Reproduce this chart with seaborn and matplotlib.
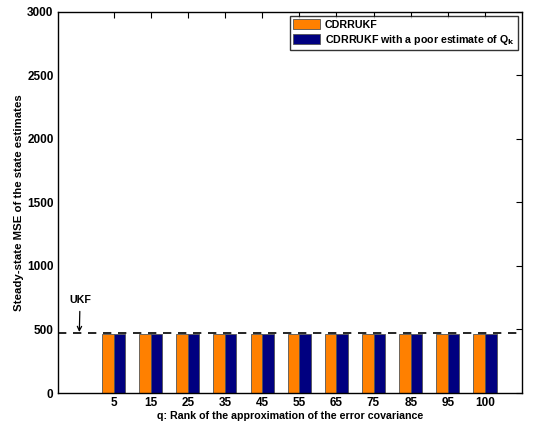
import matplotlib
matplotlib.use("Agg")
import matplotlib.pyplot as plt
import pandas as pd
import seaborn as sns

sns.set_style("white")
plt.rcParams["font.family"] = ["Liberation Sans", "DejaVu Sans"]
plt.rcParams["font.weight"] = "bold"
plt.rcParams["mathtext.default"] = "bf"
plt.rcParams["text.color"] = "k"
plt.rcParams["axes.labelcolor"] = "k"
plt.rcParams["xtick.color"] = "k"
plt.rcParams["ytick.color"] = "k"

# data
ranks = ["5", "15", "25", "35", "45", "55", "65", "75", "85", "95", "100"]
mse_cdrrukf = [465, 465, 464, 464, 464, 464, 464, 464, 464, 465, 464]
mse_poor_q = [466, 466, 465, 465, 465, 465, 465, 465, 465, 466, 465]
ukf_mse = 470
yticks = [0, 500, 1000, 1500, 2000, 2500, 3000]

lab1 = "CDRRUKF"
lab2 = r"CDRRUKF with a poor estimate of Q$_\mathbf{k}$"

df = pd.DataFrame({
    "rank": ranks * 2,
    "mse": mse_cdrrukf + mse_poor_q,
    "method": [lab1] * len(ranks) + [lab2] * len(ranks),
})

# empty first slot holds the UKF marker
order = [""] + ranks
pal = {lab1: "#ff8000", lab2: "#000080"}
fs_tick = 8.5
fs_lab = 7.7

fig = plt.figure(figsize=(5.35, 4.21), dpi=100)
ax = fig.add_axes([0.108, 0.0665, 0.868, 0.9055])

ax.axhline(ukf_mse, color="k", ls="--", lw=1.2, dashes=(5, 4), zorder=1)
sns.barplot(data=df, x="rank", y="mse", hue="method", order=order,
            hue_order=[lab1, lab2], palette=pal, width=0.62,
            edgecolor="#555555", linewidth=0.6, saturation=1,
            errorbar=None, ax=ax, zorder=2)

ax.annotate("UKF", xy=(0.08, ukf_mse + 10), xytext=(0.1, 690),
            ha="center", va="bottom", fontsize=fs_lab, fontweight="bold",
            arrowprops=dict(arrowstyle="->", color="k", lw=0.9,
                            shrinkA=2, shrinkB=0))

ax.set_xlim(-0.5, 12)
ax.set_ylim(0, 3000)
ax.set_xticks(range(1, len(order)))
ax.set_xticklabels(ranks, fontsize=fs_tick, fontweight="bold")
ax.set_yticks(yticks)
ax.set_yticklabels([str(t) for t in yticks], fontsize=fs_tick, fontweight="bold")
ax.tick_params(direction="in", length=4, width=0.8, top=True, right=True,
               pad=3)
for s in ax.spines.values():
    s.set_color("k")
    s.set_linewidth(1.0)

ax.set_xlabel("q: Rank of the approximation of the error covariance",
              fontsize=fs_lab, fontweight="bold", labelpad=1)
ax.set_ylabel("Steady-state MSE of the state estimates",
              fontsize=8.2, fontweight="bold", labelpad=2)

leg = ax.legend(loc="upper right", fontsize=fs_lab, frameon=True, fancybox=False,
                edgecolor="k", handlelength=2.5, handleheight=1.0,
                borderpad=0.3, labelspacing=0.3, handletextpad=0.5,
                borderaxespad=0.4)
leg.get_frame().set_linewidth(1.0)
for t in leg.get_texts():
    t.set_fontweight("bold")

fig.savefig("out.png", dpi=100)
